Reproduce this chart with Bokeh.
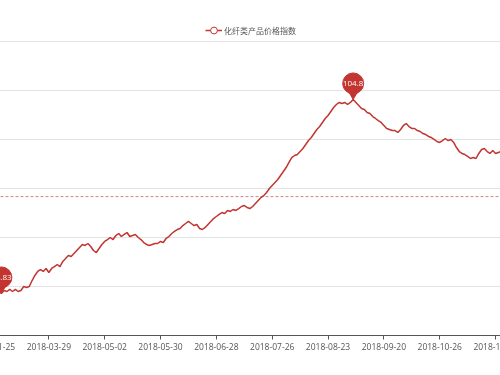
from bokeh.plotting import figure
from bokeh.models import Range1d, FixedTicker, Span, Legend, LegendItem, ColumnDataSource
from bokeh.core.properties import value
from bokeh.embed import file_html
from bokeh.resources import INLINE

# ---------------- data ----------------
series_name = "化纤类产品价格指数"
tick_labels = ["2018-01-25", "2018-03-29", "2018-05-02", "2018-05-30", "2018-06-28",
               "2018-07-26", "2018-08-23", "2018-09-20", "2018-10-26", "2018-11-23"]
tick_every = 20  # one axis label every 20 trading days

index_values = [
    85.24, 85.13, 85.03, 84.83, 85.13, 85.03, 85.24, 85.03, 85.24, 85.03,
    85.13, 85.54, 85.44, 85.54, 86.16, 86.68, 87.09, 87.29, 87.09, 87.40,
    86.99, 87.40, 87.60, 87.81, 87.60, 88.12, 88.43, 88.74, 88.63, 88.94,
    89.25, 89.56, 89.87, 89.77, 89.97, 89.66, 89.25, 89.04, 89.46, 89.87,
    90.18, 90.38, 90.59, 90.38, 90.79, 91.00, 90.69, 90.90, 91.10, 90.69,
    90.79, 90.90, 90.59, 90.38, 90.07, 89.87, 89.77, 89.87, 89.97, 89.97,
    90.18, 90.07, 90.49, 90.69, 91.00, 91.21, 91.41, 91.52, 91.82, 92.03,
    92.24, 92.03, 91.82, 91.93, 91.52, 91.41, 91.62, 91.93, 92.24, 92.54,
    92.75, 92.96, 93.16, 93.06, 93.37, 93.27, 93.47, 93.37, 93.57, 93.78,
    93.88, 93.68, 93.57, 93.78, 94.09, 94.40, 94.71, 94.91, 95.22, 95.63,
    95.94, 96.25, 96.56, 96.97, 97.38, 97.79, 98.31, 98.82, 99.03, 99.13,
    99.44, 99.75, 100.16, 100.57, 100.88, 101.29, 101.71, 102.01, 102.43, 102.84,
    103.15, 103.56, 103.97, 104.28, 104.49, 104.38, 104.49, 104.28, 104.49, 104.80,
    104.49, 104.18, 103.87, 103.76, 103.46, 103.35, 103.04, 102.84, 102.63, 102.43,
    102.12, 101.81, 101.71, 101.60, 101.60, 101.40, 101.71, 102.12, 102.32, 102.01,
    101.81, 101.81, 101.60, 101.50, 101.29, 101.19, 100.99, 100.88, 100.68, 100.47,
    100.37, 100.57, 100.78, 100.57, 100.68, 100.37, 99.85, 99.44, 99.24, 99.13,
    98.93, 98.72, 98.82, 98.72, 99.24, 99.65, 99.75, 99.44, 99.24, 99.54,
    99.24, 99.34, 99.44,
]
average_value = 94.8  # markLine "average"

# hidden (off-screen) value axis of the reference
y_axis_min = 80.5
y_axis_max = 114.985
grid_step = 5.044

# ---------------- style / layout ----------------
RED = "#c23531"
SIDE = 30              # extra canvas on both sides so edge tick labels are not shifted
FRAME_W = 510
W, H = FRAME_W + 2 * SIDE, 367
FRAME_H = 335
x_start, x_end = -0.895, 181.77

xs = list(range(len(index_values)))
src = ColumnDataSource(dict(x=xs, y=index_values))

p = figure(width=W, height=H, output_backend="svg", toolbar_location=None,
           x_range=Range1d(x_start, x_end), y_range=Range1d(y_axis_min, y_axis_max),
           min_border_left=SIDE, min_border_right=SIDE, min_border_top=0,
           min_border_bottom=H - FRAME_H)
p.styles = {"position": "fixed", "left": f"{-10 - SIDE}px", "top": "0px"}
p.outline_line_color = None
p.background_fill_color = "white"
p.border_fill_color = "white"

# grid
p.xgrid.visible = False
p.yaxis.visible = False
p.ygrid[0].ticker = FixedTicker(ticks=[y_axis_min + grid_step * k for k in range(1, 7)])
p.ygrid.grid_line_color = "#e3e3e3"
p.ygrid.grid_line_width = 1

# x axis
ticks = [i * tick_every for i in range(len(tick_labels))]
p.xaxis.ticker = FixedTicker(ticks=ticks)
p.xaxis.major_label_overrides = {t: lbl for t, lbl in zip(ticks, tick_labels)}
p.xaxis.axis_line_color = "#555555"
p.xaxis.major_tick_line_color = "#555555"
p.xaxis.major_tick_out = 4
p.xaxis.major_tick_in = 0
p.xaxis.minor_tick_line_color = None
p.xaxis.major_label_text_font = "Open Sans"
p.xaxis.major_label_text_font_size = "8.5px"
p.xaxis.major_label_text_color = "#555555"
p.xaxis.major_label_standoff = 3

# average line
p.add_layout(Span(location=average_value, dimension="width", line_color=RED,
                  line_alpha=0.6, line_dash="3 2", line_width=1))

# series
line_r = p.line("x", "y", source=src, line_color=RED, line_width=1.5)
legend_marker = p.scatter(x=[float("nan")], y=[float("nan")], marker="circle", size=7,
                          fill_color="white", line_color=RED, line_width=1)

# max / min pins
px_per_unit = FRAME_H / (y_axis_max - y_axis_min)
imax = max(xs, key=lambda i: index_values[i])
imin = min(xs, key=lambda i: index_values[i])
pin_x = [imax, imin]
pin_v = [index_values[imax], index_values[imin]]
pin_c = [v + 16 / px_per_unit for v in pin_v]
pin_t = [v + 9.2 / px_per_unit for v in pin_v]
p.scatter(pin_x, pin_t, marker="inverted_triangle", size=16, fill_color=RED, line_color=RED)
p.scatter(pin_x, pin_c, marker="circle", size=21, fill_color=RED, line_color=RED)
p.text(pin_x, pin_c, text=[f"{v:g}" for v in pin_v], text_color="white",
       text_font=value("Open Sans"), text_font_size="8px", text_align="center",
       text_baseline="middle")

# legend
legend = Legend(items=[LegendItem(label=series_name, renderers=[line_r, legend_marker])],
                location=(215, 295), orientation="horizontal", padding=0, margin=0,
                spacing=0, glyph_width=17, glyph_height=20, label_standoff=2,
                border_line_alpha=0, background_fill_alpha=0,
                label_text_font="Noto Sans CJK SC", label_text_font_size="8px",
                label_text_color="#555555")
p.add_layout(legend)

open("out.html", "w").write(file_html(p, INLINE))
